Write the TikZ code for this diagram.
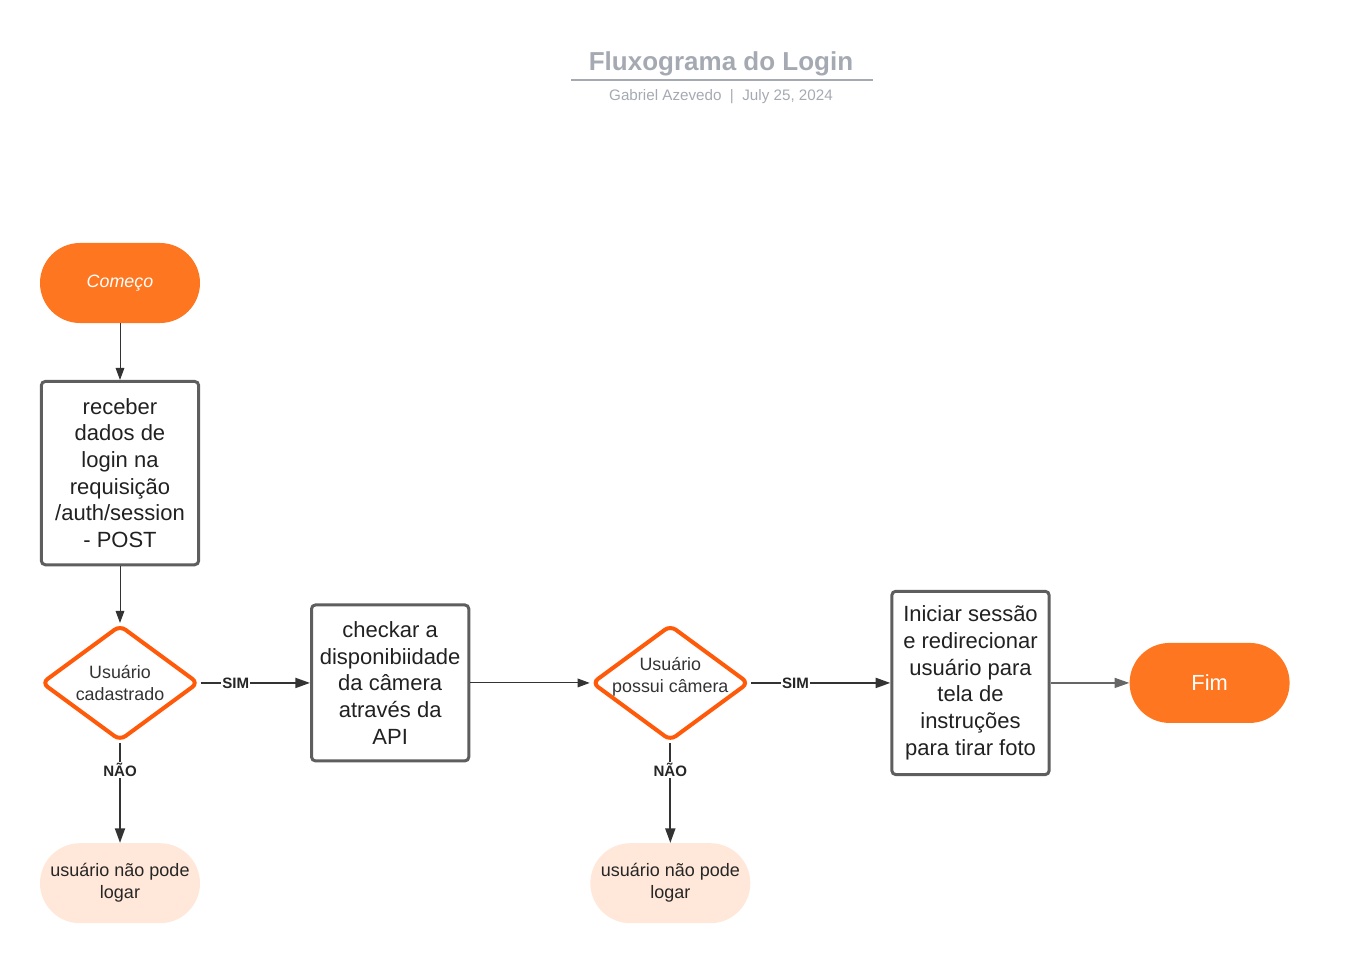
\documentclass[tikz,border=0pt]{standalone}
\usepackage{fontspec}
\setmainfont{Liberation Sans}
\usetikzlibrary{shapes.geometric,arrows.meta,positioning}
\definecolor{laranja}{HTML}{FF7620}
\definecolor{bordalaranja}{HTML}{FF5A0A}
\definecolor{pessego}{HTML}{FFE8D9}
\definecolor{bordacinza}{HTML}{5E5E5E}
\definecolor{seta}{HTML}{333333}
\definecolor{titulo}{HTML}{A5AAB2}

\begin{document}
\begin{tikzpicture}[x=0.75pt,y=-0.75pt,
		terminal/.style={fill=laranja,text=white,rounded corners=30pt,minimum width=120pt,minimum height=60pt,inner sep=0pt},
		processo/.style={draw=bordacinza,line width=2.25pt,rounded corners=3pt,minimum width=118pt,align=center,text=black!87,font=\fontsize{16.5}{20}\selectfont,inner sep=0pt},
		decisao/.style={diamond,draw=bordalaranja,line width=3pt,rounded corners=5pt,aspect=1.36,minimum width=118pt,minimum height=87pt,inner xsep=-8pt,inner ysep=0pt,align=center,text=black!80,font=\fontsize{13.4}{16.5}\selectfont},
		negado/.style={fill=pessego,rounded corners=30pt,minimum width=120pt,minimum height=60pt,inner sep=0pt,align=center,text=black!85,font=\fontsize{13.5}{16.5}\selectfont},
		fluxo/.style={draw=seta,line width=1.5pt,-{Triangle[length=11pt,width=7.5pt]}},
		fino/.style={draw=seta,line width=0.75pt,-{Triangle[length=9pt,width=6.5pt]}},
		rotulo/.style={fill=white,inner sep=1pt,font=\bfseries\fontsize{11.3}{13}\selectfont,text=black!85}]
	\useasboundingbox (0,0) rectangle (1372,963);
	
	\node[font=\bfseries\fontsize{19.5}{23}\selectfont,text=titulo] (titulo) at (721,64) {Fluxograma do Login};
	\draw[titulo,line width=1.5pt] (571,80) coordinate (linhaA) -- (873,80) coordinate (linhaB);
	\node[font=\fontsize{11.4}{13}\selectfont,text=titulo] (autor) at (721,97) {Gabriel Azevedo~~|~~July 25, 2024};
	
	\node[terminal,font=\itshape\fontsize{13.4}{15}\selectfont] (comeco) at (120,283) {Começo};
	\node[processo,minimum height=137.5pt,below=42.5pt of comeco] (receber) {receber\\dados de\\login na\\requisição\\/auth/session\\- POST};
	\node[decisao,below=42.5pt of receber] (cadastrado) {Usuário\\cadastrado};
	\node[processo,minimum height=117pt,right=82pt of cadastrado] (checkar) {checkar a\\disponibiidade\\da câmera\\através da\\API};
	\node[decisao,text depth=11.5pt,inner ysep=-4pt,right=89.5pt of checkar] (camera) {Usuário\\possui câmera};
	\node[processo,minimum height=137.5pt,right=104.5pt of camera] (iniciar) {Iniciar sessão\\e redirecionar\\usuário para\\tela de\\instruções\\para tirar foto};
	\node[terminal,font=\fontsize{16.4}{18}\selectfont,right=59pt of iniciar] (fim) {Fim};
	\node[negado,below=75pt of cadastrado] (negado1) {usuário não pode\\logar};
	\node[negado,below=75pt of camera] (negado2) {usuário não pode\\logar};
	
	\draw[fino] (comeco) -- (receber);
	\draw[fino] (receber) -- (cadastrado);
	\draw[fluxo] (cadastrado) -- node[rotulo,pos=0.32] {SIM} (checkar);
	\draw[fino] (checkar) -- (camera);
	\draw[fluxo] (camera) -- node[rotulo,pos=0.32] {SIM} (iniciar);
	\draw[fino,draw=black!60,line width=1pt,-{Triangle[length=11pt,width=7.5pt]}] (iniciar) -- (fim);
	\draw[fluxo] (cadastrado) -- node[rotulo,pos=0.27] {NÃO} (negado1);
	\draw[fluxo] (camera) -- node[rotulo,pos=0.27] {NÃO} (negado2);
\end{tikzpicture}
\end{document}
